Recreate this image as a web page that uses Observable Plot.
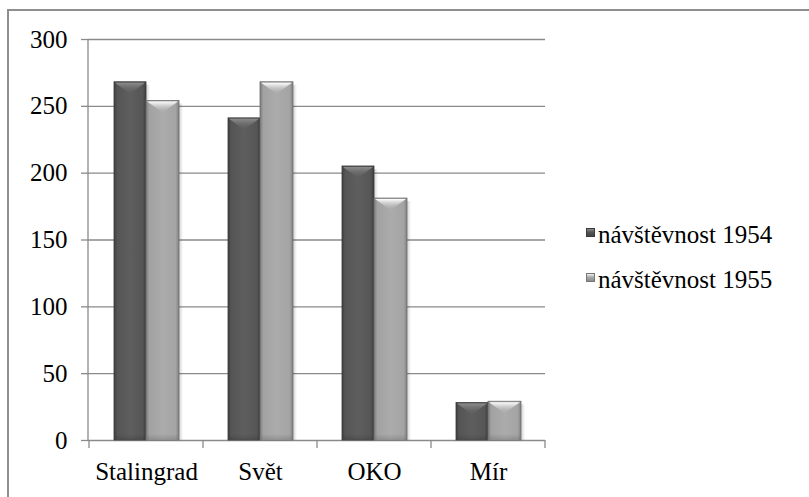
<!DOCTYPE html>
<html><head><meta charset="utf-8">
<script src="https://cdn.jsdelivr.net/npm/d3@7"></script>
<script src="https://cdn.jsdelivr.net/npm/@observablehq/plot@0.6"></script>
<style>
body{margin:0;background:#fff}
#wrap{position:relative;width:809px;height:497px;overflow:hidden;font-family:'Liberation Serif','DejaVu Serif',serif}
#border{position:absolute;left:7px;top:9px;width:900px;height:600px;border-left:2px solid #8e8e8e;border-top:2px solid #8e8e8e;box-sizing:border-box}
#chart{position:absolute;left:0;top:0}
</style></head>
<body>
<div id="wrap"><div id="border"></div><div id="chart"></div>
<div style="position:absolute;left:586px;top:220px;font-family:'Liberation Serif','DejaVu Serif',serif;font-size:25px;line-height:30px;white-space:nowrap"><span style="position:absolute;left:0;top:8px;width:9px;height:9px;box-sizing:border-box;border:1px solid #3a3a3a;background:linear-gradient(to bottom,#8a8a8a 0%,#555 45%,#444 100%)"></span><span id="lt0" style="position:absolute;left:12px;top:0"></span></div>
<div style="position:absolute;left:586px;top:265px;font-family:'Liberation Serif','DejaVu Serif',serif;font-size:25px;line-height:30px;white-space:nowrap"><span style="position:absolute;left:0;top:8px;width:9px;height:9px;box-sizing:border-box;border:1px solid #777;background:linear-gradient(to bottom,#f0f0f0 0%,#a8a8a8 45%,#8a8a8a 100%)"></span><span id="lt1" style="position:absolute;left:12px;top:0"></span></div>
</div>
<script>
const categories = ["Stalingrad", "Svět", "OKO", "Mír"];
const series = ["návštěvnost 1954", "návštěvnost 1955"];
const values1954 = [268, 241, 205, 28];
const values1955 = [254, 268, 181, 29];
const yTicks = [0, 50, 100, 150, 200, 250, 300];

const rows = categories.flatMap((c, i) => [
  {cat: c, series: series[0], value: values1954[i]},
  {cat: c, series: series[1], value: values1955[i]}
]);

const gradId = ["g54", "g55"];
const capId = ["cap54", "cap55"];
const NS = "http://www.w3.org/2000/svg";

function makeBevel(k) {
  return function(index, scales, values, dims, ctx, next) {
    const g = next(index, scales, values, dims, ctx);
    const rects = Array.from(g.querySelectorAll("rect"));
    rects.forEach(r => {
      const x = +r.getAttribute("x"), y = +r.getAttribute("y");
      const w = +r.getAttribute("width"), h = +r.getAttribute("height");
      r.setAttribute("fill", "url(#" + gradId[k] + ")");
      r.setAttribute("stroke", k === 0 ? "#3a3a3a" : "#6e6e6e");
      r.setAttribute("stroke-width", 0.8);
      const sh = document.createElementNS(NS, "rect");
      sh.setAttribute("x", x + w); sh.setAttribute("y", y + 3);
      sh.setAttribute("width", 4); sh.setAttribute("height", Math.max(0, h - 3));
      sh.setAttribute("fill", "url(#shadow)");
      g.insertBefore(sh, g.firstChild);
      const capH = Math.min(12, h / 2);
      const p = document.createElementNS(NS, "polygon");
      p.setAttribute("points", (x + 1) + "," + (y + 1) + " " + (x + w - 1) + "," + (y + 1) + " " + (x + w / 2) + "," + (y + capH));
      p.setAttribute("fill", "url(#" + capId[k] + ")");
      r.after(p);
      const b = document.createElementNS(NS, "rect");
      b.setAttribute("x", x + 1); b.setAttribute("y", y + h - 6);
      b.setAttribute("width", Math.max(0, w - 2)); b.setAttribute("height", Math.min(5, h));
      b.setAttribute("fill", "url(#bottom)");
      p.after(b);
    });
    return g;
  };
}

function frameTicks(index, scales, values, dims) {
  const g = document.createElementNS(NS, "g");
  g.setAttribute("stroke", "#8a8a8a");
  g.setAttribute("stroke-width", 1.3);
  const x = scales.x;
  const left = dims.marginLeft, right = dims.width - dims.marginRight;
  const step = (right - left) / categories.length;
  const y0 = scales.y(0), yTop = scales.y(yTicks[yTicks.length - 1]);
  const line = (x1, y1, x2, y2) => {
    const l = document.createElementNS(NS, "line");
    l.setAttribute("x1", x1); l.setAttribute("y1", y1);
    l.setAttribute("x2", x2); l.setAttribute("y2", y2);
    g.appendChild(l);
  };
  line(left, yTop, left, y0);
  categories.forEach((c, i) => {
    const bx = x.bandwidth ? x(c) : left + i * step;
    line(bx, y0, bx, y0 + 8);
  });
  line(right, y0, right, y0 + 8);
  return g;
}

const chart = Plot.plot({
  width: 809,
  height: 497,
  marginLeft: 88,
  marginRight: 264,
  marginTop: 39,
  marginBottom: 57,
  style: {fontFamily: "'Liberation Serif', 'DejaVu Serif', serif", fontSize: "25px"},
  x: {domain: categories, padding: 0, label: null},
  y: {domain: [0, 300], label: null},
  color: {domain: series, range: ["#5a5a5a", "#a9a9a9"]},
  marks: [
    Plot.gridY(yTicks, {stroke: "#8a8a8a", strokeOpacity: 1, strokeWidth: 1.3}),
    Plot.axisY({ticks: yTicks, tickSize: 7, tickPadding: 14, stroke: "#8a8a8a", strokeWidth: 1.3, fill: "black", fontFamily: "Liberation Serif", label: null}),
    Plot.axisX({tickSize: 0, tickPadding: 22, fill: "black", fontFamily: "Liberation Serif", label: null}),
    frameTicks,
    Plot.barY(rows.filter(d => d.series === series[0]), {x: "cat", y: "value", fill: "series", insetLeft: 25, insetRight: 57, render: makeBevel(0)}),
    Plot.barY(rows.filter(d => d.series === series[1]), {x: "cat", y: "value", fill: "series", insetLeft: 57, insetRight: 24, render: makeBevel(1)})
  ]
});
chart.style.background = "transparent";

const defs = d3.select(chart).insert("defs", ":first-child");
function grad(id, vertical, stops) {
  const lg = defs.append("linearGradient").attr("id", id)
    .attr("x1", 0).attr("y1", 0).attr("x2", vertical ? 0 : 1).attr("y2", vertical ? 1 : 0);
  stops.forEach(([o, c, a]) => lg.append("stop").attr("offset", o).attr("stop-color", c).attr("stop-opacity", a == null ? 1 : a));
}
grad("g54", false, [["0", "#3e3e3e"], ["0.1", "#555"], ["0.5", "#5e5e5e"], ["0.9", "#565656"], ["1", "#3c3c3c"]]);
grad("g55", false, [["0", "#7c7c7c"], ["0.1", "#a2a2a2"], ["0.5", "#ababab"], ["0.9", "#a4a4a4"], ["1", "#808080"]]);
grad("cap54", true, [["0", "#8c8c8c"], ["1", "#5e5e5e", 0.2]]);
grad("cap55", true, [["0", "#ffffff"], ["1", "#ababab", 0.2]]);
grad("bottom", true, [["0", "#000", 0], ["1", "#000", 0.12]]);
grad("shadow", false, [["0", "#000", 0.18], ["1", "#000", 0]]);

document.getElementById("chart").appendChild(chart);
document.getElementById("lt0").textContent = series[0];
document.getElementById("lt1").textContent = series[1];
</script>
</body></html>
